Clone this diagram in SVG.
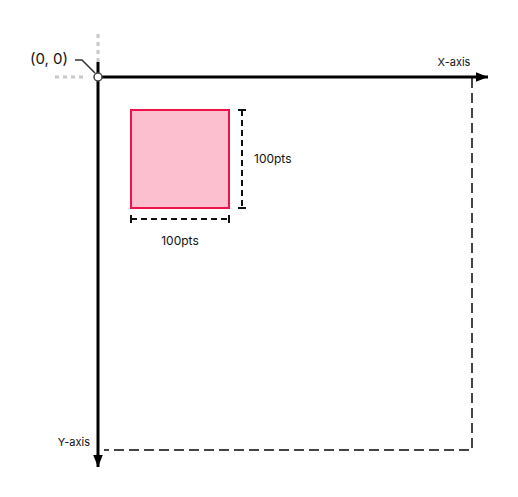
<svg xmlns="http://www.w3.org/2000/svg" width="518" height="497" viewBox="0 0 518 497">
<style>
text{font-family:Inter,"Liberation Sans",sans-serif;font-size:12px;fill:#111}
.axis{stroke:#000;stroke-width:3;fill:none}
.dot{stroke:#c8c8c8;stroke-width:3;stroke-dasharray:4 4;fill:none}
.bound{stroke:#444;stroke-width:2;stroke-dasharray:10 5;fill:none}
.dim{stroke:#111;stroke-width:2;fill:none}
.dimd{stroke:#111;stroke-width:2;stroke-dasharray:6 4;fill:none}
</style>
<defs>
<marker id="ah" viewBox="0 0 10 10" refX="10" refY="5" markerWidth="4" markerHeight="4" orient="auto" markerUnits="strokeWidth">
<path d="M0,1 L10,5 L0,9 Z" fill="#000"/>
</marker>
</defs>
<g id="connectors">
<path class="dot" d="M55,77 H87"/>
<path class="dot" d="M98,34 V62"/>
<path class="bound" d="M472,78 V450 H104"/>
<path class="axis" d="M98,77 H488" marker-end="url(#ah)"/>
<path class="axis" d="M98,62 V467" marker-end="url(#ah)"/>
<path d="M75,60 H82 L95,73" stroke="#333" stroke-width="1.5" fill="none"/>
</g>
<g id="origin">
<circle cx="98" cy="77" r="4" fill="#fff" stroke="#444" stroke-width="1.5"/>
<text x="30" y="64" style="font-size:15px">(0, 0)</text>
</g>
<g id="x-label"><text x="454" y="66" text-anchor="middle" style="font-size:11px">X-axis</text></g>
<g id="y-label"><text x="90" y="446" text-anchor="end" style="font-size:11px">Y-axis</text></g>
<g id="square">
<rect x="131" y="110" width="98" height="98" fill="#fbbfcf" stroke="#f0124a" stroke-width="2"/>
</g>
<g id="dim-h">
<path class="dimd" d="M131,219 H229"/>
<path class="dim" d="M131,215 V223 M229,215 V223"/>
<text x="180" y="245" text-anchor="middle">100pts</text>
</g>
<g id="dim-v">
<path class="dimd" d="M242,110 V208"/>
<path class="dim" d="M238,110 H246 M238,208 H246"/>
<text x="254" y="163">100pts</text>
</g>
</svg>
